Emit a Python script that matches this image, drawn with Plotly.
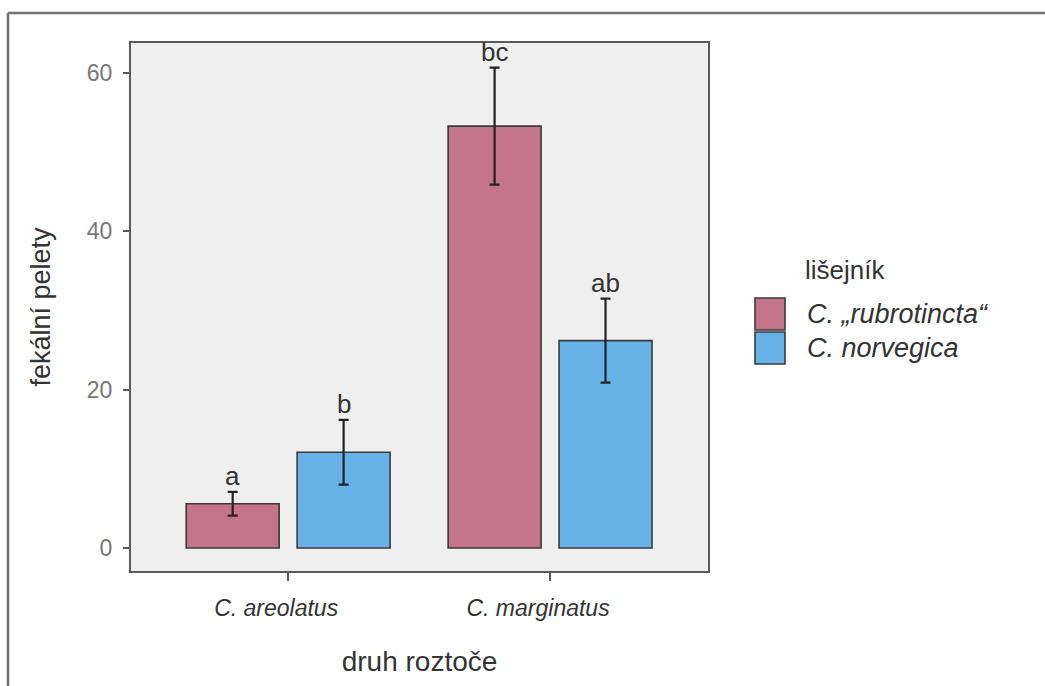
import plotly.graph_objects as go

# mites (x categories) and lichen species (series)
mites = ["C. areolatus", "C. marginatus"]
lichens = ["C. „rubrotincta“", "C. norvegica"]
colors = ["#c4748a", "#67b3e8"]

# mean number of faecal pellets and standard error per lichen species
means_rubrotincta = [5.6, 53.3]
se_rubrotincta = [1.5, 7.4]
means_norvegica = [12.1, 26.2]
se_norvegica = [4.1, 5.3]

# significance group letters
letters_rubrotincta = ["a", "bc"]
letters_norvegica = ["b", "ab"]

yticks = [0, 20, 40, 60]

FONT = "Liberation Sans, Arial"

series = [
    (lichens[0], means_rubrotincta, se_rubrotincta, letters_rubrotincta, colors[0]),
    (lichens[1], means_norvegica, se_norvegica, letters_norvegica, colors[1]),
]

fig = go.Figure()
for name, m, se, lab, col in series:
    fig.add_trace(go.Bar(
        x=mites, y=m, name=name,
        marker=dict(color=col, line=dict(color="#3a3a3a", width=1.6)),
        error_y=dict(type="data", array=se, visible=True,
                     color="#222222", thickness=2.2, width=5),
        showlegend=False, hoverinfo="x+y+name",
    ))

# letters above the error bars
offsets = {lichens[0]: -0.5, lichens[1]: 0.5}
annotations = []
for name, m, se, lab, col in series:
    for i, mite in enumerate(mites):
        annotations.append(dict(
            x=mite, y=m[i] + se[i], xref="x", yref="y",
            text=lab[i], showarrow=False, yanchor="bottom",
            xshift=offsets[name] * 111, yshift=-1,
            font=dict(size=26, color="#333333", family=FONT),
        ))

# legend drawn in paper space
PW, PH, L, T = 577, 528, 131, 43


def px(xp):
    return (xp - L) / PW


def py(yp):
    return (T + PH - yp) / PH


annotations.append(dict(
    x=px(803), y=py(270), xref="paper", yref="paper", text="lišejník",
    showarrow=False, xanchor="left", yanchor="middle",
    font=dict(size=26, color="#333333", family=FONT),
))
shapes = []
for k, (name, col) in enumerate(zip(lichens, colors)):
    y0 = 298 + k * 34
    shapes.append(dict(
        type="rect", xref="paper", yref="paper",
        x0=px(755), x1=px(785), y0=py(y0), y1=py(y0 + 32),
        fillcolor=col, line=dict(color="#3a3a3a", width=1.6),
    ))
    annotations.append(dict(
        x=px(805), y=py(y0 + 16), xref="paper", yref="paper",
        text=f"<i>{name}</i>", showarrow=False, xanchor="left", yanchor="middle",
        font=dict(size=27, color="#333333", family=FONT),
    ))

# outer frame (top and left edges)
shapes.append(dict(type="line", xref="paper", yref="paper",
                   x0=px(8), x1=px(1045), y0=py(13), y1=py(13),
                   line=dict(color="#717171", width=2.5)))
shapes.append(dict(type="line", xref="paper", yref="paper",
                   x0=px(8), x1=px(8), y0=py(13), y1=py(686),
                   line=dict(color="#717171", width=2.5)))

fig.update_layout(
    width=1045, height=686,
    margin=dict(l=L, r=1045 - L - PW, t=T, b=686 - T - PH),
    paper_bgcolor="white", plot_bgcolor="#efefef",
    barmode="group", bargap=0.153, bargroupgap=0.162,
    font=dict(family=FONT, color="#333333"),
    annotations=annotations, shapes=shapes,
)
fig.update_xaxes(
    range=[-0.6, 1.603], showgrid=False, zeroline=False,
    showline=True, linecolor="#5a5a5a", linewidth=2, mirror=True,
    ticks="outside", ticklen=8, tickwidth=2, tickcolor="#5a5a5a",
    ticklabelstandoff=7, ticklabelshift=-12,
    tickfont=dict(size=23, color="#333333"),
    tickvals=mites, ticktext=[f"<i>{m}</i>" for m in mites],
    title=dict(text="druh roztoče", font=dict(size=28, color="#333333"), standoff=32),
)
fig.update_yaxes(
    range=[-2.9, 63.8], showgrid=False, zeroline=False,
    showline=True, linecolor="#5a5a5a", linewidth=2, mirror=True,
    ticks="outside", ticklen=6, tickwidth=2, tickcolor="#5a5a5a",
    ticklabelstandoff=6,
    tickvals=yticks, tickfont=dict(size=23, color="#777777"),
    title=dict(text="fekální pelety", font=dict(size=27, color="#333333"), standoff=28),
)

fig.write_html("out.html")
